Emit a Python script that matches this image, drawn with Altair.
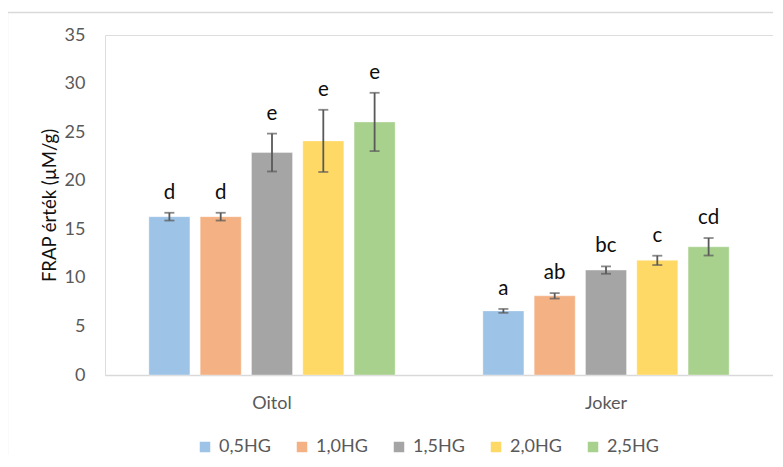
import altair as alt
import pandas as pd

groups = ["Oitol", "Joker"]
series = ["0,5HG", "1,0HG", "1,5HG", "2,0HG", "2,5HG"]
colors = ["#9DC3E6", "#F4B183", "#A5A5A5", "#FFD966", "#A9D18E"]

oitol_values = [16.3, 16.3, 22.9, 24.1, 26.05]
oitol_errors = [0.4, 0.4, 1.95, 3.2, 3.0]
oitol_letters = ["d", "d", "e", "e", "e"]

joker_values = [6.6, 8.15, 10.8, 11.8, 13.2]
joker_errors = [0.2, 0.28, 0.38, 0.48, 0.9]
joker_letters = ["a", "ab", "bc", "c", "cd"]

y_ticks = [0, 5, 10, 15, 20, 25, 30, 35]

rows = []
for g, vals, errs, lets in [
    ("Oitol", oitol_values, oitol_errors, oitol_letters),
    ("Joker", joker_values, joker_errors, joker_letters),
]:
    for s, v, e, l in zip(series, vals, errs, lets):
        rows.append({"group": g, "series": s, "value": v,
                     "lo": v - e, "hi": v + e, "letter": l})
df = pd.DataFrame(rows)

FONT = "Lato"
GRAY = "#595959"

x_enc = alt.X("group:N", sort=groups, title=None,
              scale=alt.Scale(paddingInner=0, paddingOuter=0),
              axis=alt.Axis(labelAngle=0, ticks=False, domainColor="#D9D9D9",
                            domainWidth=1.5, labelFont=FONT, labelFontSize=18,
                            labelColor=GRAY, labelPadding=19))
xo_enc = alt.XOffset("series:N", sort=series,
                     scale=alt.Scale(paddingInner=0.2, paddingOuter=0.855))

base = alt.Chart(df)

bars = base.mark_bar(stroke="white", strokeOpacity=0.35, strokeWidth=1).encode(
    x=x_enc,
    xOffset=xo_enc,
    y=alt.Y("value:Q", title="FRAP érték (µM/g)",
            scale=alt.Scale(domain=[0, 35], nice=False),
            axis=alt.Axis(values=y_ticks, ticks=False, domain=False, grid=False,
                          labelFont=FONT, labelFontSize=18, labelColor=GRAY,
                          labelPadding=20, titleFont=FONT, titleFontSize=18.5,
                          titleFontWeight="normal", titleColor="#111111",
                          titlePadding=5)),
    color=alt.Color("series:N", sort=series,
                    scale=alt.Scale(domain=series, range=colors),
                    legend=alt.Legend(title=None, orient="none", direction="horizontal",
                                      columns=5, legendX=91, legendY=403,
                                      symbolType="square", symbolSize=110,
                                      symbolStrokeWidth=0, labelFont=FONT,
                                      labelFontSize=18, labelColor=GRAY,
                                      labelOffset=5, columnPadding=22)),
)

err = base.mark_rule(color=GRAY, strokeWidth=1.8).encode(
    x=alt.X("group:N", sort=groups),
    xOffset=alt.XOffset("series:N", sort=series),
    y="lo:Q",
    y2="hi:Q",
)

caps_hi = base.mark_tick(color=GRAY, size=10, thickness=1.8, orient="horizontal").encode(
    x=alt.X("group:N", sort=groups),
    xOffset=alt.XOffset("series:N", sort=series),
    y="hi:Q",
)
caps_lo = base.mark_tick(color=GRAY, size=10, thickness=1.8, orient="horizontal").encode(
    x=alt.X("group:N", sort=groups),
    xOffset=alt.XOffset("series:N", sort=series),
    y="lo:Q",
)

letters = base.mark_text(font=FONT, fontSize=20.5, color="#0d0d0d", dy=-14,
                         baseline="alphabetic").encode(
    x=alt.X("group:N", sort=groups),
    xOffset=alt.XOffset("series:N", sort=series),
    y="hi:Q",
    text="letter:N",
)

frame = alt.Chart(pd.DataFrame({"k": [0]})).mark_rect(
    fill=None, stroke="#D9D9D9", strokeWidth=1.3, clip=False
).encode(
    x=alt.value(-97.5), x2=alt.value(720), y=alt.value(-22.5), y2=alt.value(460)
)

chart = alt.layer(frame, bars, err, caps_hi, caps_lo, letters).properties(
    width=668, height=340,
    autosize=alt.AutoSizeParams(type="none"),
    padding={"left": 97, "top": 27, "right": 0, "bottom": 80},
).configure_view(stroke=None).configure(background="white")

chart.save("out.html", embed_options={"renderer": "svg", "actions": False})
